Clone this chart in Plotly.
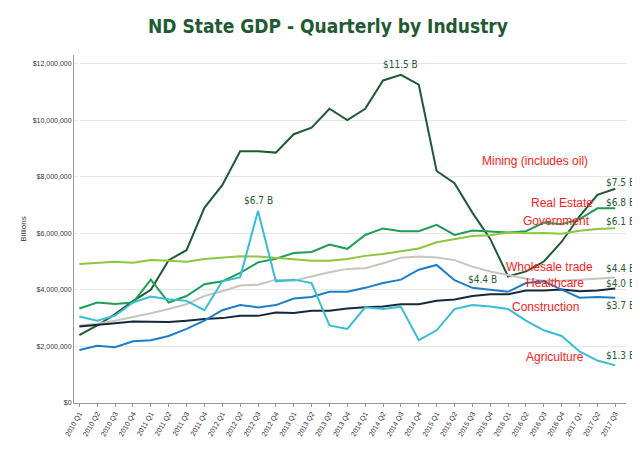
import plotly.graph_objects as go

quarters = [f"{y} Q{q}" for y in range(2010, 2018) for q in range(1, 5)][:31]

mining = [2.4, 2.74, 3.14, 3.6, 4.0, 5.05, 5.4, 6.9, 7.7, 8.9, 8.9, 8.85, 9.5, 9.73, 10.4, 10.0,
          10.4, 11.4, 11.6, 11.25, 8.2, 7.77, 6.73, 5.8, 4.47, 4.65, 5.0, 5.7, 6.6, 7.36, 7.57]
real_estate = [3.34, 3.55, 3.5, 3.55, 4.36, 3.55, 3.78, 4.2, 4.3, 4.6, 4.97, 5.1, 5.3, 5.34, 5.6, 5.45,
               5.94, 6.17, 6.07, 6.07, 6.3, 5.94, 6.1, 6.06, 6.03, 6.07, 6.38, 6.32, 6.5, 6.88, 6.88]
government = [4.91, 4.94, 4.99, 4.96, 5.05, 5.03, 4.99, 5.09, 5.13, 5.19, 5.18, 5.14, 5.08, 5.03, 5.03, 5.09,
              5.2, 5.27, 5.36, 5.46, 5.68, 5.78, 5.9, 5.93, 6.03, 6.0, 6.01, 5.98, 6.09, 6.15, 6.18]
wholesale = [2.74, 2.8, 2.91, 3.03, 3.17, 3.32, 3.49, 3.78, 3.95, 4.15, 4.18, 4.36, 4.32, 4.47, 4.62, 4.74,
             4.76, 4.94, 5.13, 5.18, 5.14, 5.05, 4.82, 4.65, 4.53, 4.39, 4.32, 4.32, 4.36, 4.39, 4.44]
health = [2.7, 2.77, 2.82, 2.88, 2.86, 2.86, 2.91, 2.97, 3.0, 3.08, 3.08, 3.2, 3.18, 3.26, 3.26, 3.34,
          3.38, 3.41, 3.49, 3.49, 3.61, 3.66, 3.78, 3.84, 3.84, 3.98, 3.98, 4.01, 3.95, 3.98, 4.05]
construction = [1.87, 2.02, 1.97, 2.18, 2.22, 2.37, 2.62, 2.91, 3.28, 3.46, 3.38, 3.46, 3.69, 3.75, 3.93, 3.93,
                4.07, 4.24, 4.36, 4.71, 4.88, 4.34, 4.07, 4.01, 3.93, 4.24, 4.3, 4.01, 3.72, 3.75, 3.72]
agriculture = [3.06, 2.91, 3.09, 3.55, 3.76, 3.67, 3.61, 3.28, 4.3, 4.45, 6.79, 4.3, 4.36, 4.24, 2.74, 2.62,
               3.38, 3.32, 3.4, 2.22, 2.57, 3.32, 3.46, 3.41, 3.32, 2.91, 2.57, 2.37, 1.82, 1.5, 1.33]

series = [
    ("Mining", mining, "#1f5a32"),
    ("Real Estate and Rental and Leasing", real_estate, "#1f9d55"),
    ("Government", government, "#8dc63f"),
    ("Wholesale Trade", wholesale, "#c9c4be"),
    ("Health Care and Social Assistance", health, "#17283a"),
    ("Construction", construction, "#1f7cc9"),
    ("Agriculture, Forestry, Fishing, and Hunting", agriculture, "#36bdd7"),
]

x = list(range(len(quarters)))
fig = go.Figure()
for name, vals, color in series:
    fig.add_trace(go.Scatter(x=x, y=[v * 1e6 for v in vals], name=name, mode="lines",
                             line=dict(color=color, width=2), showlegend=False))

lbl_font = dict(size=10, color="#1f5a32", family="DejaVu Sans Condensed")

# value labels on the lines
fig.add_annotation(x=18, y=11.6e6, text="$11.5 B", showarrow=False, yshift=10, font=lbl_font)
fig.add_annotation(x=10, y=6.79e6, text="$6.7 B", showarrow=False, yshift=10, font=lbl_font)
fig.add_annotation(x=23.5, y=4.38e6, text="$4.4 B", showarrow=False, xanchor="right", font=lbl_font)

end_labels = [(7.8, "$7.5 B"), (7.1, "$6.8 B"), (6.4, "$6.1 B"), (4.76, "$4.4 B"), (4.24, "$4.0 B"),
              (3.45, "$3.7 B"), (1.69, "$1.3 B")]
for yv, txt in end_labels:
    fig.add_annotation(x=30.3, y=yv * 1e6, text=txt, showarrow=False, xanchor="center", font=lbl_font)

red_labels = [(25.5, 8.55, "Mining (includes oil)"), (27.0, 7.07, "Real Estate"), (26.7, 6.45, "Government"),
              (26.3, 4.8, "Wholesale trade"), (26.6, 4.24, "Healthcare"), (26.1, 3.38, "Construction"),
              (26.6, 1.62, "Agriculture")]
for xi, yv, txt in red_labels:
    fig.add_annotation(x=xi, y=yv * 1e6, text=txt, showarrow=False,
                       font=dict(size=12, color="#ff2020", family="Liberation Sans"))

# legend as a single line of text with coloured squares
legend_text = "  ".join(f"<span style='color:{c}'>■</span> {n}" for n, _, c in series)
fig.add_annotation(xref="paper", yref="paper", x=0.5, y=-0.215, xanchor="center", yanchor="middle",
                   text=legend_text, showarrow=False,
                   font=dict(size=7, color="#333", family="DejaVu Sans Condensed"))

fig.update_layout(
    width=640, height=462,
    paper_bgcolor="white", plot_bgcolor="white",
    margin=dict(l=66, r=22, t=47, b=67),
    title=dict(text="<b>ND State GDP - Quarterly by Industry</b>", x=0.5, y=0.975,
               font=dict(size=19, color="#1f5a32", family="DejaVu Sans Condensed")),
    font=dict(family="Liberation Sans", size=7, color="#333"),
    showlegend=False,
    xaxis=dict(tickvals=x, ticktext=quarters, tickangle=-60, range=[-0.3, 30.6],
               showgrid=False, showline=True, linecolor="#999", ticks="outside",
               tickcolor="#999", ticklen=3, tickfont=dict(size=7)),
    yaxis=dict(range=[0, 12.3e6], tickvals=[i * 2e6 for i in range(7)],
               ticktext=["$0"] + [f"${i * 2},000,000" for i in range(1, 7)],
               gridcolor="#e6e6e6", showline=True, linecolor="#999", zeroline=False,
               title=dict(text="Billions", font=dict(size=8), standoff=4), tickfont=dict(size=7)),
)

fig.write_html("out.html")
